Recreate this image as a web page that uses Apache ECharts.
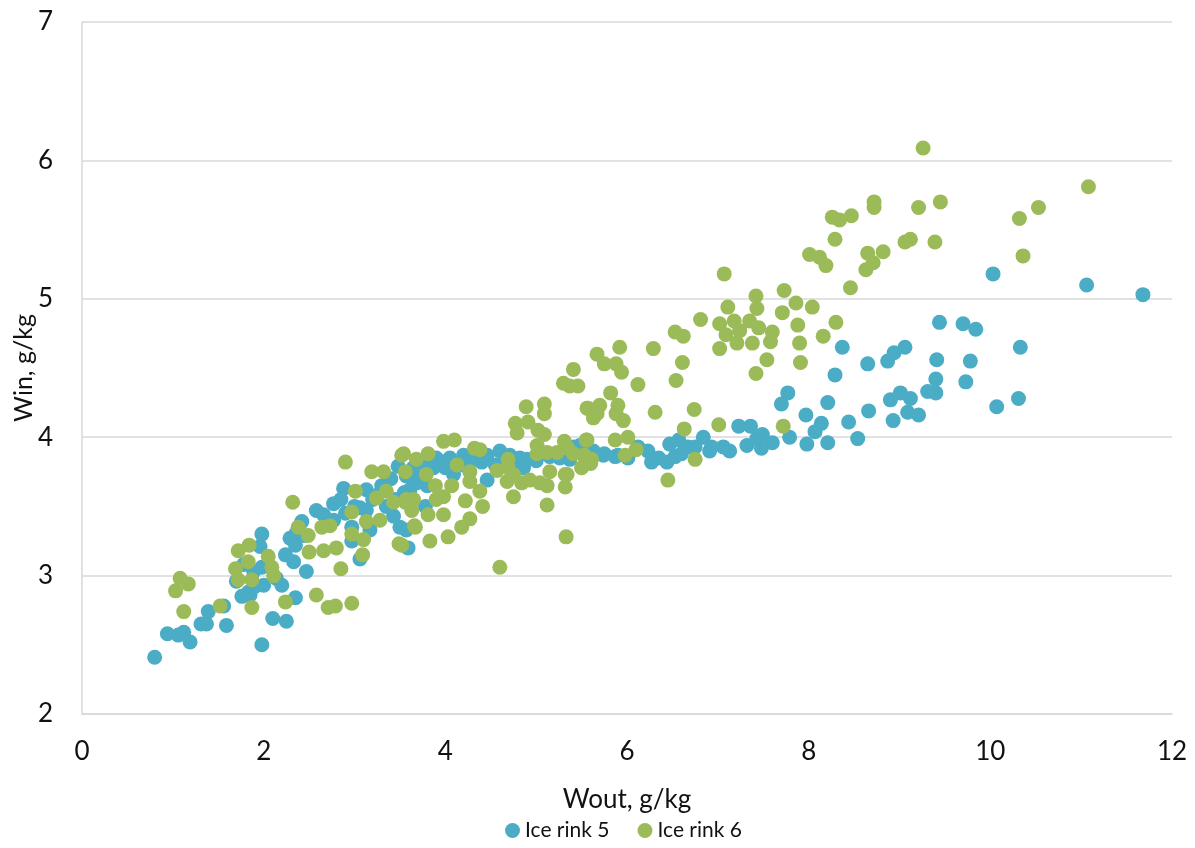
<!DOCTYPE html>
<html><head><meta charset="utf-8">
<script src="https://cdn.jsdelivr.net/npm/echarts@6/dist/echarts.min.js"></script>
<style>html,body{margin:0;padding:0;background:#fff}#c{width:1195px;height:848px}</style>
</head><body><div id="c"></div>
<script>
const seriesNames = ["Ice rink 5", "Ice rink 6"];
const xTicks = [0, 2, 4, 6, 8, 10, 12];
const yTicks = [2, 3, 4, 5, 6, 7];
const rink5 = [
[0.80,2.41],[0.94,2.58],[1.06,2.57],[1.12,2.59],[1.19,2.52],[1.31,2.65],[1.37,2.65],[1.39,2.74],[1.56,2.78],[1.59,2.64],
[1.70,2.96],[1.76,2.85],[1.83,2.88],[1.90,2.92],[1.98,3.30],[1.96,3.21],[1.78,3.08],[1.89,3.03],[1.98,3.06],[1.85,2.86],
[1.98,2.50],[2.10,2.69],[2.25,2.67],[2.20,2.93],[2.14,2.98],[2.35,2.84],[2.24,3.15],[2.29,3.27],[2.35,3.22],[2.47,3.03],
[2.44,3.29],[2.00,2.93],[2.33,3.10],[2.58,3.47],[2.42,3.39],[2.36,3.31],[2.77,3.52],[2.88,3.63],[3.13,3.62],[3.06,3.49],
[2.97,3.35],[2.97,3.25],[3.06,3.12],[3.17,3.33],[2.77,3.40],[2.66,3.44],[3.48,3.79],[3.57,3.72],[3.43,3.43],[3.57,3.33],
[3.59,3.20],[3.35,3.50],[3.13,3.47],[3.78,3.50],[3.50,3.35],[4.20,3.87],[4.46,3.87],[4.71,3.87],[4.82,3.85],[3.98,3.82],
[3.87,3.78],[4.09,3.73],[4.46,3.69],[3.68,3.67],[3.61,3.62],[4.86,3.78],[5.26,3.85],[5.37,3.84],[5.48,3.94],[5.63,3.90],
[4.60,3.90],[4.35,3.90],[3.25,3.58],[3.30,3.65],[3.40,3.70],[3.55,3.60],[3.65,3.78],[3.70,3.70],[3.75,3.82],[3.80,3.65],
[3.90,3.85],[4.00,3.78],[4.05,3.85],[4.15,3.80],[4.25,3.78],[4.30,3.84],[4.40,3.82],[4.55,3.80],[4.65,3.83],[4.75,3.82],
[4.90,3.84],[5.00,3.83],[5.05,3.88],[5.15,3.86],[3.20,3.55],[3.00,3.50],[2.90,3.45],[2.85,3.55],[3.45,3.55],
[5.41,3.93],[5.74,3.87],[5.87,3.86],[6.01,3.85],[6.12,3.93],[6.23,3.90],[6.27,3.82],[6.44,3.82],[6.47,3.95],[6.57,3.98],
[6.67,3.93],[6.53,3.86],[6.84,4.00],[6.93,3.93],[7.06,3.93],[7.13,3.90],[7.23,4.08],[7.36,4.08],[7.32,3.94],[7.43,3.99],
[6.91,3.90],[7.49,4.02],[7.60,3.96],[7.48,3.92],[7.79,4.00],[7.77,4.32],[7.70,4.24],[8.21,4.25],[7.97,4.16],[8.66,4.19],
[8.44,4.11],[8.14,4.10],[8.07,4.04],[7.98,3.95],[8.21,3.96],[8.54,3.99],[8.37,4.65],[8.65,4.53],[8.29,4.45],[8.87,4.55],
[8.94,4.61],[9.06,4.65],[9.44,4.83],[9.70,4.82],[9.84,4.78],[9.41,4.56],[9.78,4.55],[9.40,4.42],[9.73,4.40],[9.31,4.33],
[9.40,4.32],[9.01,4.32],[8.90,4.27],[9.12,4.28],[9.09,4.18],[9.21,4.16],[8.93,4.12],[10.03,5.18],[10.07,4.22],[10.31,4.28],
[10.33,4.65],[11.06,5.10],[11.68,5.03],[5.75,3.88],[5.90,3.87],[6.35,3.85],[6.60,3.88],[6.75,3.93]
];
const rink6 = [
[1.08,2.98],[1.17,2.94],[1.03,2.89],[1.12,2.74],[1.52,2.78],[1.69,3.05],[1.72,2.97],[1.87,2.97],[1.83,3.10],[1.72,3.18],
[1.84,3.22],[2.05,3.14],[2.09,3.06],[2.11,3.00],[1.87,2.77],[2.24,2.81],[2.38,3.35],[2.49,3.29],[2.50,3.17],[2.58,2.86],
[2.71,2.77],[2.79,2.78],[2.97,2.80],[2.85,3.05],[2.64,3.35],[2.73,3.36],[2.66,3.18],[2.80,3.20],[2.32,3.53],[2.97,3.46],
[3.13,3.39],[3.28,3.40],[3.66,3.36],[2.97,3.30],[3.10,3.26],[3.49,3.23],[3.09,3.15],[2.90,3.82],[3.19,3.75],[3.32,3.75],
[3.56,3.75],[3.52,3.87],[3.01,3.61],[3.24,3.56],[3.35,3.61],[3.43,3.53],[3.56,3.53],[3.65,3.55],
[3.54,3.88],[3.81,3.88],[3.68,3.84],[3.79,3.73],[4.13,3.80],[4.27,3.75],[4.27,3.68],[4.38,3.61],[4.07,3.65],[3.89,3.65],
[3.98,3.57],[3.90,3.55],[4.22,3.54],[4.41,3.50],[3.57,3.55],[3.63,3.47],[3.81,3.44],[3.98,3.44],[3.67,3.35],[4.27,3.41],
[4.18,3.35],[3.83,3.25],[4.03,3.28],[3.52,3.22],
[3.98,3.97],[4.10,3.98],[4.32,3.92],[4.38,3.91],[4.69,3.84],[4.57,3.76],[4.69,3.78],[4.75,3.73],[4.68,3.68],[4.75,3.57],
[4.84,3.67],[4.93,3.69],[5.04,3.67],[5.12,3.65],[5.15,3.75],[5.32,3.73],[5.32,3.64],[5.12,3.51],[5.33,3.28],[4.60,3.06],
[4.89,4.22],[5.09,4.24],[5.09,4.17],[5.56,4.21],[5.63,4.14],[4.77,4.10],[4.91,4.11],[4.79,4.03],[5.02,4.05],[5.09,4.02],
[5.01,3.94],[5.31,3.97],[5.56,3.98],[5.01,3.88],[5.12,3.89],[5.23,3.89],[5.35,3.92],[5.41,3.88],[5.53,3.87],[5.61,3.84],
[5.50,3.78],[5.41,4.49],[5.30,4.39],[5.37,4.37],[5.46,4.37],[5.57,4.21],[5.70,4.23],[5.67,4.17],[5.90,4.23],[5.88,4.17],
[5.96,4.12],[5.82,4.32],[5.67,4.60],[5.75,4.53],[5.88,4.53],[5.94,4.47],[5.92,4.65],[6.12,4.38],[6.29,4.64],[6.31,4.18],
[6.53,4.76],[6.62,4.73],[6.61,4.54],[6.54,4.41],[6.74,4.20],[6.63,4.06],[7.01,4.09],[5.87,3.98],[6.01,4.00],[5.98,3.87],
[6.10,3.91],[5.55,3.98],[5.52,3.87],[5.60,3.81],[5.34,3.73],[6.45,3.69],[6.75,3.84],
[6.81,4.85],[7.02,4.82],[7.18,4.84],[7.35,4.84],[7.09,4.74],[7.21,4.68],[7.02,4.64],[7.38,4.68],[7.07,5.18],[7.42,5.02],
[7.73,5.06],[7.11,4.94],[7.43,4.93],[7.86,4.97],[8.04,4.94],[7.71,4.90],[7.24,4.77],[7.45,4.79],[7.60,4.76],[7.88,4.81],
[8.30,4.83],[7.58,4.69],[7.90,4.68],[8.16,4.73],[7.54,4.56],[7.91,4.54],[7.42,4.46],[7.72,4.08],
[8.01,5.32],[8.12,5.30],[8.19,5.24],[8.46,5.08],[8.26,5.59],[8.34,5.57],[8.47,5.60],[8.29,5.43],[8.65,5.33],[8.82,5.34],
[8.71,5.26],[8.63,5.21],[8.72,5.70],[8.72,5.66],[9.21,5.66],[9.45,5.70],[9.06,5.41],[9.12,5.43],[9.39,5.41],[9.26,6.09],
[10.32,5.58],[10.53,5.66],[10.36,5.31],[11.08,5.81]
];
const colors = ["#4BACC6", "#9BBB59"];
const FONT = "Lato";
const TXT = "#111111";
const chart = echarts.init(document.getElementById('c'), null, {renderer: 'canvas'});
chart.setOption({
  animation: false,
  backgroundColor: '#ffffff',
  textStyle: {fontFamily: FONT},
  grid: {left: 82, right: 23, top: 22, bottom: 134, containLabel: false, outerBoundsMode: 'none'},
  xAxis: {
    type: 'value', min: xTicks[0], max: xTicks[xTicks.length-1], interval: 2,
    name: 'Wout, g/kg', nameLocation: 'middle', nameGap: 73, nameMoveOverlap: false,
    nameTextStyle: {fontSize: 26, color: TXT, fontFamily: FONT},
    axisLine: {show: true, lineStyle: {color: '#D9D9D9', width: 1.5}},
    axisTick: {show: false},
    axisLabel: {fontSize: 26, color: TXT, margin: 25, fontFamily: FONT},
    splitLine: {show: false}
  },
  yAxis: {
    type: 'value', min: yTicks[0], max: yTicks[yTicks.length-1], interval: 1,
    name: 'Win, g/kg', nameLocation: 'middle', nameGap: 46, nameMoveOverlap: false,
    nameTextStyle: {fontSize: 25, color: TXT, fontFamily: FONT},
    axisLine: {show: true, lineStyle: {color: '#D9D9D9', width: 1.5}},
    axisTick: {show: false},
    axisLabel: {fontSize: 26, color: TXT, margin: 29, fontFamily: FONT},
    splitLine: {show: true, lineStyle: {color: '#D9D9D9', width: 1.5}}
  },
  legend: {
    bottom: 2, left: 500, itemGap: 28, itemWidth: 15, itemHeight: 15,
    textStyle: {fontSize: 21, color: TXT, fontFamily: FONT},
    data: seriesNames.map(n => ({name: n, icon: 'circle'}))
  },
  series: [
    {name: seriesNames[0], type: 'scatter', data: rink5, symbolSize: 15, itemStyle: {color: colors[0], opacity: 1}},
    {name: seriesNames[1], type: 'scatter', data: rink6, symbolSize: 15, itemStyle: {color: colors[1], opacity: 1}}
  ]
});
</script></body></html>
